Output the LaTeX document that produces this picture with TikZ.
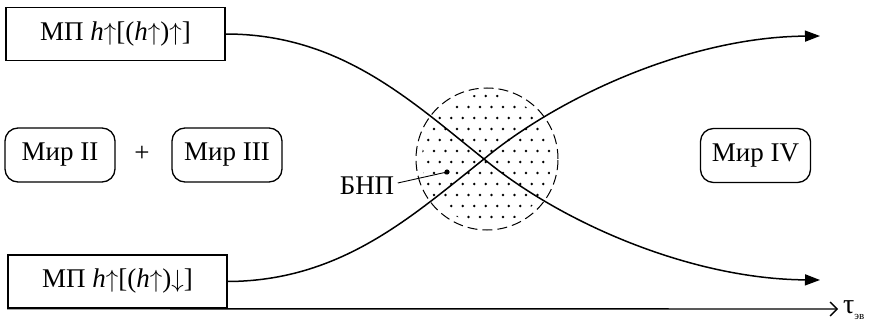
\documentclass[tikz,border=0pt]{standalone}
\usepackage{fontspec}
\setmainfont{Liberation Serif}
\usetikzlibrary{arrows.meta,positioning,calc}

\newcommand{\upar}{\(\uparrow\)}
\newcommand{\dnar}{\(\downarrow\)}

\begin{document}
\begin{tikzpicture}[x=1pt,y=-1pt,
    mpbox/.style={draw, line width=1.5pt, minimum width=219pt,
      minimum height=53pt, inner sep=0pt,
      font=\fontsize{27}{30}\selectfont},
    mirbox/.style={draw, line width=1.3pt, rounded corners=13pt,
      minimum width=110pt, minimum height=54pt, inner sep=0pt,
      font=\fontsize{27}{30}\selectfont},
    flow/.style={line width=1.5pt, -{Triangle[length=15pt,width=11pt]}},
    axis/.style={line width=1.4pt, -{Straight Barb[length=7pt,width=14pt,line width=1.4pt]}}]
  \useasboundingbox (0,0) rectangle (876,326);

  % boxes
  \node[mpbox] (mpup) at (115.5,34) {МП \textit{h}\upar[(\textit{h}\upar)\upar]};
  \node[mpbox] (mpdown) at (117.5,281.5) {МП \textit{h}\upar[(\textit{h}\upar)\dnar]};
  \node[mirbox] (mir2) at (60,155) {Мир II};
  \node[mirbox] (mir3) at (227,155) {Мир III};
  \node[font=\fontsize{27}{30}\selectfont] (plus) at (142,154) {+};
  \node[mirbox] (mir4) at (755.5,155.5) {Мир IV};

  % dotted zone
  \coordinate (cross) at (484,159);
  \coordinate (zone) at (487,159);
  \begin{scope}
    \clip (zone) circle (65pt);
    \foreach \j in {0,...,13} {
      \foreach \i in {0,...,14} {
        \fill ({411+11.5*\i+5.75*mod(\j,2)},{85+11*\j}) circle (1.4pt);
      }
    }
  \end{scope}
  \draw[dashed, dash pattern=on 10pt off 5pt, line width=1pt] (zone) circle (71pt);

  % flows
  \coordinate (endhigh) at (820,36);
  \coordinate (endlow) at (820,280);
  \draw[flow] (mpup.east) .. controls (340,34) and (410,100) .. (cross)
    .. controls (560,222) and (690,279) .. (endlow);
  \draw[flow] (mpdown.east) .. controls (340,281) and (410,218) .. (cross)
    .. controls (560,96) and (690,37) .. (endhigh);

  % label
  \node[font=\fontsize{27}{30}\selectfont] (bnp) at (367,186) {БНП};
  \coordinate (bnpdot) at (447,172);
  \fill (bnpdot) circle (2.6pt);
  \draw[line width=0.9pt] (bnp.east) ++(0,-3) -- (bnpdot);

  % time axis
  \coordinate (axend) at (838,309);
  \draw[axis] (mpdown.south west) -- (axend);
  \node[anchor=west, inner sep=0pt, font=\fontsize{28}{30}\selectfont] (tau) at (843,310)
    {τ\raisebox{-6pt}{\fontsize{11}{12}\selectfont эв}};
\end{tikzpicture}
\end{document}
